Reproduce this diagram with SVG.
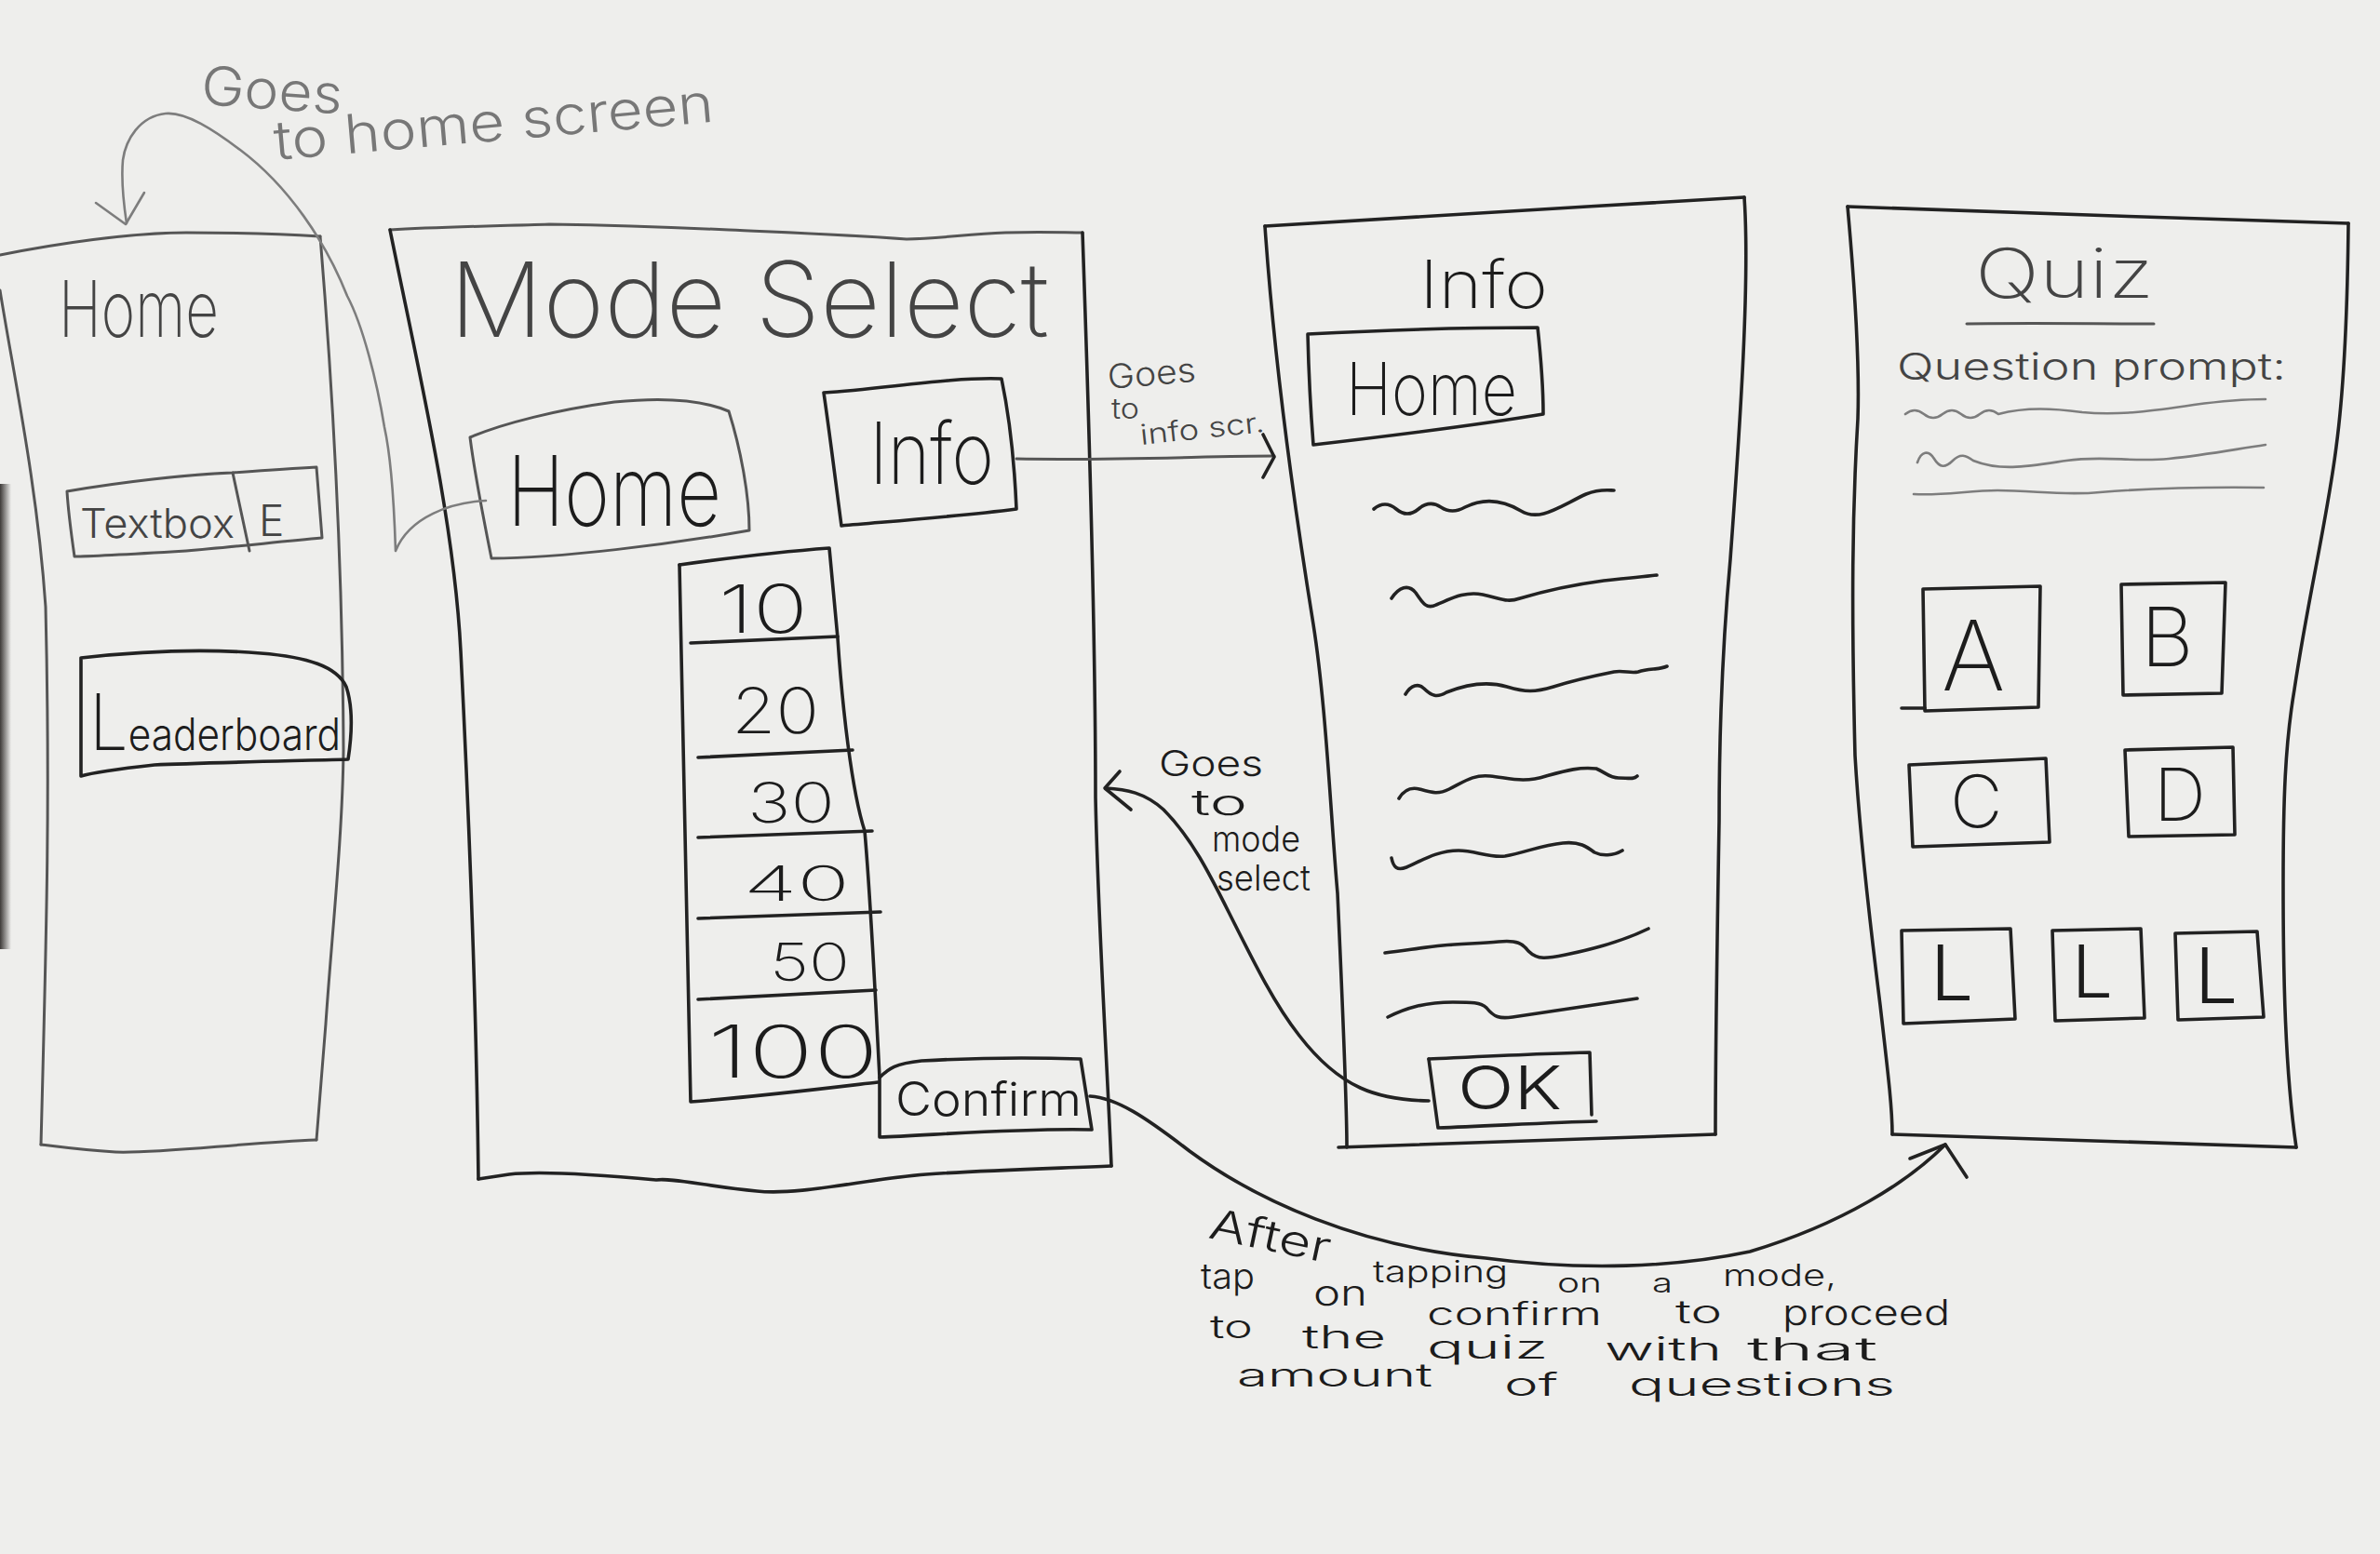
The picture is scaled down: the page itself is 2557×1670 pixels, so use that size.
<svg xmlns="http://www.w3.org/2000/svg" width="2557" height="1670" viewBox="0 0 2557 1670">
  <defs>
    <style>
      .ln{fill:none;stroke-linecap:round;stroke-linejoin:round}
      .soft{stroke:#555;stroke-width:3}
      .dark{stroke:#222;stroke-width:3.6}
      .faintln{stroke:#7d7d7d;stroke-width:2.6}
      .t{font-family:Inter,"Open Sans","Liberation Sans",sans-serif;font-weight:300}
      .thin{font-weight:200}
      .ts{fill:#444}
      .td{fill:#1c1c1c}
      .tf{fill:#777}
    </style>
    <linearGradient id="edge" x1="0" x2="1" y1="0" y2="0">
      <stop offset="0" stop-color="#3d3a38"/>
      <stop offset="1" stop-color="#3d3a38" stop-opacity="0"/>
    </linearGradient>
  </defs>

  <!-- paper -->
  <rect width="2557" height="1670" fill="#eeeeec"/>
  <rect x="0" y="520" width="12" height="500" fill="url(#edge)"/>

  <!-- Home screen -->
  <g id="home-screen">
    <path class="ln soft" d="M0,274 C60,262 140,250 200,250 C260,250 310,252 344,254"/>
    <path class="ln soft" d="M344,254 C356,400 368,600 369,806 C368,900 356,1010 350,1100 L340,1225"/>
    <path class="ln soft" d="M340,1225 C260,1228 170,1240 124,1238 C90,1236 60,1232 44,1230"/>
    <path class="ln soft" d="M44,1230 C50,1000 54,860 49,652 C40,520 14,400 0,312"/>
    <text class="t thin ts" x="63" y="362" font-size="84" textLength="172" lengthAdjust="spacingAndGlyphs">Home</text>
    <g id="home-textbox">
      <path class="ln soft" d="M72,528 C130,518 200,510 250,508 C290,505 320,503 340,502 C342,530 344,555 346,578 C300,582 250,588 200,592 C150,595 100,598 80,598 C76,570 73,545 72,528 Z"/>
      <path class="ln soft" d="M250,508 L268,592"/>
      <text class="t ts" x="86" y="578" font-size="44" textLength="166" lengthAdjust="spacingAndGlyphs">Textbox</text>
      <text class="t ts" x="278" y="576" font-size="46">E</text>
    </g>
    <g id="home-leaderboard">
      <path class="ln dark" d="M87,707 C150,700 220,697 280,702 C330,706 362,716 372,738 C380,762 378,790 374,816 C300,818 210,820 166,822 C130,826 100,830 87,834 L87,707"/>
      <text class="t td" x="96" y="806" font-size="48" textLength="270" lengthAdjust="spacingAndGlyphs"><tspan font-size="84" font-weight="200">L</tspan>eaderboard</text>
    </g>
  </g>

  <!-- Mode Select screen -->
  <g id="mode-select">
    <path class="ln soft" d="M419,247 C470,244 528,243 590,241 C655,242 720,244 783,247 C850,250 910,252 974,257 C1010,256 1038,252 1080,250 C1120,249 1145,250 1163,250"/>
    <path class="ln dark" d="M1163,250 C1170,450 1177,700 1177,857 C1180,1000 1190,1150 1194,1253"/>
    <path class="ln dark" d="M1194,1253 C1120,1256 1050,1258 995,1262 C930,1267 860,1285 813,1280 C760,1275 720,1265 705,1268 C640,1262 580,1258 547,1262 L514,1267"/>
    <path class="ln dark" d="M419,247 C450,400 488,560 495,700 C505,900 512,1100 514,1267"/>
    <text class="t thin ts" x="483" y="362" font-size="112" textLength="644" lengthAdjust="spacingAndGlyphs">Mode Select</text>

    <g id="mode-home-button">
      <path class="ln soft" d="M505,470 C540,455 600,440 660,432 C720,426 760,432 783,442 C795,480 805,530 805,570 C720,585 600,600 528,600 C520,560 510,510 505,470 Z"/>
      <text class="t thin td" x="545" y="565" font-size="104" textLength="230" lengthAdjust="spacingAndGlyphs">Home</text>
    </g>
    <g id="mode-info-button">
      <path class="ln dark" d="M885,422 C950,418 1020,405 1076,407 C1085,450 1090,500 1092,547 C1030,555 960,560 904,565 C898,520 892,470 885,422 Z"/>
      <text class="t thin td" x="934" y="520" font-size="92" textLength="134" lengthAdjust="spacingAndGlyphs">Info</text>
    </g>

    <g id="question-count-list">
      <path class="ln dark" d="M730,607 C780,600 850,592 891,589 L900,686 C905,760 915,850 929,893 C935,960 940,1060 945,1158"/>
      <path class="ln dark" d="M730,607 L742,1184 C820,1178 900,1168 943,1163"/>
      <path class="ln dark" d="M742,691 L900,684"/>
      <path class="ln dark" d="M750,814 L916,806"/>
      <path class="ln dark" d="M750,900 L937,893"/>
      <path class="ln dark" d="M750,987 L946,980"/>
      <path class="ln dark" d="M750,1074 L941,1064"/>
      <text class="t thin td" x="772" y="680" font-size="72" textLength="96" lengthAdjust="spacingAndGlyphs">10</text>
      <text class="t thin td" x="786" y="788" font-size="68" textLength="94" lengthAdjust="spacingAndGlyphs">20</text>
      <text class="t thin td" x="803" y="884" font-size="60" textLength="94" lengthAdjust="spacingAndGlyphs">30</text>
      <text class="t thin td" x="799" y="968" font-size="52" textLength="114" lengthAdjust="spacingAndGlyphs">40</text>
      <text class="t thin td" x="827" y="1054" font-size="56" textLength="86" lengthAdjust="spacingAndGlyphs">50</text>
      <text class="t thin td" x="760" y="1158" font-size="78" textLength="184" lengthAdjust="spacingAndGlyphs">100</text>
    </g>

    <g id="confirm-button">
      <path class="ln dark" d="M945,1158 C955,1148 962,1143 990,1140 C1060,1136 1130,1137 1161,1138 L1173,1214 C1100,1212 1000,1220 945,1222 Z"/>
      <text class="t td" x="962" y="1199" font-size="50" textLength="200" lengthAdjust="spacingAndGlyphs">Confirm</text>
    </g>
  </g>

  <!-- Info screen -->
  <g id="info-screen">
    <path class="ln dark" d="M1359,243 C1500,235 1700,222 1874,212"/>
    <path class="ln dark" d="M1359,243 C1365,330 1377,460 1411,671 C1425,760 1430,882 1437,960 C1443,1092 1447,1180 1447,1233"/>
    <path class="ln dark" d="M1438,1233 C1600,1228 1750,1222 1843,1219"/>
    <path class="ln dark" d="M1874,212 C1880,300 1870,450 1859,601 C1850,700 1847,800 1847,882 C1845,1000 1843,1120 1843,1219"/>
    <text class="t thin td" x="1525" y="331" font-size="72" textLength="138" lengthAdjust="spacingAndGlyphs">Info</text>

    <g id="info-home-button">
      <path class="ln dark" d="M1405,359 C1480,355 1580,352 1652,352 C1655,380 1658,420 1658,445 C1580,458 1480,470 1411,478 C1408,440 1406,400 1405,359 Z"/>
      <text class="t thin td" x="1446" y="446" font-size="78" textLength="184" lengthAdjust="spacingAndGlyphs">Home</text>
    </g>

    <g id="info-body-lines">
      <path class="ln dark" d="M1476,547 q12,-10 24,0 t24,0 t24,-2 t26,0 c20,-10 40,-8 60,4 c20,12 40,-4 70,-18 c15,-6 25,-4 30,-4"/>
      <path class="ln dark" d="M1495,643 c8,-12 18,-16 26,-6 c8,12 12,18 22,13 c15,-6 30,-15 50,-11 c20,4 25,9 40,4 c30,-9 60,-15 90,-19 c20,-2 40,-4 57,-6"/>
      <path class="ln dark" d="M1510,746 c6,-10 14,-12 20,-6 c8,8 14,10 24,4 c25,-10 45,-12 65,-6 c20,6 30,6 50,0 c25,-8 45,-12 65,-16 c10,-2 18,2 26,0 c12,-4 22,-2 31,-6"/>
      <path class="ln dark" d="M1503,858 c6,-10 14,-12 22,-10 c14,4 20,6 32,0 c16,-8 26,-16 44,-14 c20,2 36,8 60,0 c22,-6 36,-10 54,-8 c10,4 14,10 24,10 c10,0 16,2 20,-2"/>
      <path class="ln dark" d="M1495,922 c2,10 6,14 16,10 c18,-8 34,-18 56,-18 c18,0 32,8 50,6 c22,-4 40,-12 62,-14 c18,-2 26,4 34,10 c8,4 20,4 30,-2"/>
      <path class="ln dark" d="M1488,1024 c20,-2 40,-6 62,-8 c20,-2 40,-2 60,-4 c20,-2 26,2 32,10 c10,10 20,8 40,4 c30,-6 60,-14 89,-28"/>
      <path class="ln dark" d="M1491,1093 c20,-10 40,-16 70,-16 c20,0 30,0 36,6 c8,10 14,12 28,10 c40,-6 80,-12 134,-20"/>
    </g>

    <g id="info-ok-button">
      <path class="ln dark" d="M1535,1138 C1600,1135 1660,1132 1708,1131 L1710,1198"/>
      <path class="ln dark" d="M1535,1138 L1545,1212 C1600,1210 1670,1206 1715,1205"/>
      <text class="t td" x="1566" y="1192" font-size="64" textLength="112" lengthAdjust="spacingAndGlyphs">OK</text>
    </g>
  </g>

  <!-- Quiz screen -->
  <g id="quiz-screen">
    <path class="ln dark" d="M1985,222 C2150,228 2350,235 2523,240"/>
    <path class="ln dark" d="M1985,222 C1992,300 1998,391 1996,450 C1990,550 1989,650 1993,812 C1998,900 2010,1000 2020,1080 C2028,1150 2033,1190 2033,1219"/>
    <path class="ln dark" d="M2033,1219 C2200,1225 2350,1230 2467,1233"/>
    <path class="ln dark" d="M2523,240 C2522,340 2518,420 2510,480 C2500,560 2480,640 2465,741 C2455,800 2453,860 2453,950 C2453,1050 2455,1150 2467,1233"/>
    <text class="t thin ts" x="2122" y="320" font-size="74" textLength="192" lengthAdjust="spacingAndGlyphs">Quiz</text>
    <path class="ln soft" d="M2113,348 C2180,347 2250,348 2314,348"/>
    <text class="t ts" x="2038" y="408" font-size="40" textLength="418" lengthAdjust="spacingAndGlyphs">Question prompt:</text>

    <g id="prompt-lines">
      <path class="ln faintln" d="M2047,445 q10,-8 20,0 t20,0 t20,0 t20,0 t20,0 c30,-8 60,-6 90,-2 c40,4 80,-2 120,-8 c30,-4 60,-6 77,-6"/>
      <path class="ln faintln" d="M2060,497 c4,-12 12,-14 18,-4 c6,10 12,10 20,2 c8,-8 14,-6 22,0 c30,12 60,6 100,0 c40,-6 70,2 110,-2 c40,-4 70,-10 104,-15"/>
      <path class="ln faintln" d="M2056,531 c30,2 60,-4 90,-4 c40,0 70,6 110,2 c50,-4 100,-6 176,-5"/>
    </g>

    <g id="answer-a">
      <path class="ln dark" d="M2066,633 L2192,630 L2190,760 L2068,764 Z"/>
      <path class="ln dark" d="M2043,761 L2068,761"/>
      <text class="t thin td" x="2086" y="742" font-size="104">A</text>
    </g>
    <g id="answer-b">
      <path class="ln dark" d="M2279,628 L2391,626 L2387,745 L2281,747 Z"/>
      <text class="t thin td" x="2300" y="716" font-size="88">B</text>
    </g>
    <g id="answer-c">
      <path class="ln dark" d="M2051,822 L2198,815 L2202,905 L2055,910 Z"/>
      <text class="t thin td" x="2095" y="889" font-size="78">C</text>
    </g>
    <g id="answer-d">
      <path class="ln dark" d="M2283,806 L2399,803 L2401,897 L2287,899 Z"/>
      <text class="t thin td" x="2314" y="882" font-size="78">D</text>
    </g>
    <g id="lifeline-1">
      <path class="ln dark" d="M2043,1000 L2160,998 L2165,1095 L2045,1100 Z"/>
      <text class="t td" x="2074" y="1075" font-size="82">L</text>
    </g>
    <g id="lifeline-2">
      <path class="ln dark" d="M2205,1000 L2300,998 L2304,1094 L2208,1097 Z"/>
      <text class="t td" x="2226" y="1072" font-size="78">L</text>
    </g>
    <g id="lifeline-3">
      <path class="ln dark" d="M2337,1003 L2425,1001 L2432,1093 L2340,1096 Z"/>
      <text class="t td" x="2358" y="1078" font-size="82">L</text>
    </g>
  </g>

  <!-- connectors and their notes -->
  <g id="connectors">
    <!-- Mode Select Home button back to the Home screen -->
    <path class="ln faintln" d="M522,538 C485,540 440,555 425,592 C424,560 422,500 413,459 C405,410 390,350 373,318 C350,260 310,200 258,161 C230,140 200,120 178,122 C150,125 135,150 132,172 C130,195 133,220 136,240"/>
    <path class="ln faintln" d="M103,218 L135,241 L155,207"/>
    <text class="t tf" x="215" y="112" font-size="58" textLength="152" lengthAdjust="spacingAndGlyphs" transform="rotate(4 215 112)">Goes</text>
    <text class="t tf" x="296" y="172" font-size="58" textLength="474" lengthAdjust="spacingAndGlyphs" transform="rotate(-5 296 172)">to home screen</text>

    <!-- Info button to the Info screen -->
    <path class="ln soft" d="M1092,493 C1200,495 1300,490 1369,490"/>
    <path class="ln dark" d="M1357,467 L1369,491 L1357,513"/>
    <text class="t ts" x="1191" y="418" font-size="36" textLength="95" lengthAdjust="spacingAndGlyphs" transform="rotate(-5 1191 418)">Goes</text>
    <text class="t ts" x="1194" y="450" font-size="30" textLength="30" lengthAdjust="spacingAndGlyphs">to</text>
    <text class="t ts" x="1226" y="478" font-size="30" textLength="134" lengthAdjust="spacingAndGlyphs" transform="rotate(-6 1226 478)">info scr.</text>

    <!-- OK button back to Mode Select -->
    <path class="ln dark" d="M1535,1183 C1480,1182 1440,1170 1396,1113 C1370,1080 1350,1040 1320,980 C1300,940 1280,900 1250,870 C1230,852 1210,848 1188,847"/>
    <path class="ln dark" d="M1203,829 L1187,847 L1215,870"/>
    <text class="t td" x="1245" y="834" font-size="38" textLength="112" lengthAdjust="spacingAndGlyphs">Goes</text>
    <text class="t td" x="1280" y="876" font-size="38" textLength="60" lengthAdjust="spacingAndGlyphs">to</text>
    <text class="t td" x="1302" y="915" font-size="38" textLength="95" lengthAdjust="spacingAndGlyphs">mode</text>
    <text class="t td" x="1307" y="957" font-size="38" textLength="101" lengthAdjust="spacingAndGlyphs">select</text>

    <!-- Confirm button to the Quiz screen -->
    <path class="ln dark" d="M1171,1178 C1200,1180 1230,1200 1278,1237 C1350,1290 1460,1340 1596,1352 C1700,1366 1800,1362 1880,1345 C1980,1315 2050,1270 2090,1230"/>
    <path class="ln dark" d="M2052,1245 L2090,1230 L2113,1265" stroke-width="4.5"/>
    <g class="t td">
      <text x="1297" y="1330" font-size="46" textLength="132" lengthAdjust="spacingAndGlyphs" transform="rotate(12 1297 1330)">After</text>
      <text x="1475" y="1378" font-size="32" textLength="145" lengthAdjust="spacingAndGlyphs">tapping</text>
      <text x="1673" y="1389" font-size="28" textLength="48" lengthAdjust="spacingAndGlyphs">on</text>
      <text x="1775" y="1389" font-size="28" textLength="22" lengthAdjust="spacingAndGlyphs">a</text>
      <text x="1851" y="1382" font-size="32" textLength="122" lengthAdjust="spacingAndGlyphs">mode,</text>

      <text x="1290" y="1385" font-size="38" textLength="58" lengthAdjust="spacingAndGlyphs">tap</text>
      <text x="1411" y="1403" font-size="38" textLength="58" lengthAdjust="spacingAndGlyphs">on</text>
      <text x="1533" y="1424" font-size="34" textLength="188" lengthAdjust="spacingAndGlyphs">confirm</text>
      <text x="1800" y="1422" font-size="34" textLength="50" lengthAdjust="spacingAndGlyphs">to</text>
      <text x="1915" y="1424" font-size="38" textLength="180" lengthAdjust="spacingAndGlyphs">proceed</text>

      <text x="1300" y="1438" font-size="34" textLength="46" lengthAdjust="spacingAndGlyphs">to</text>
      <text x="1399" y="1449" font-size="34" textLength="90" lengthAdjust="spacingAndGlyphs">the</text>
      <text x="1533" y="1460" font-size="34" textLength="130" lengthAdjust="spacingAndGlyphs">quiz</text>
      <text x="1724" y="1462" font-size="34" textLength="126" lengthAdjust="spacingAndGlyphs">with</text>
      <text x="1877" y="1462" font-size="34" textLength="140" lengthAdjust="spacingAndGlyphs">that</text>

      <text x="1329" y="1490" font-size="34" textLength="210" lengthAdjust="spacingAndGlyphs">amount</text>
      <text x="1616" y="1500" font-size="34" textLength="58" lengthAdjust="spacingAndGlyphs">of</text>
      <text x="1750" y="1500" font-size="34" textLength="286" lengthAdjust="spacingAndGlyphs">questions</text>
    </g>
  </g>
</svg>
